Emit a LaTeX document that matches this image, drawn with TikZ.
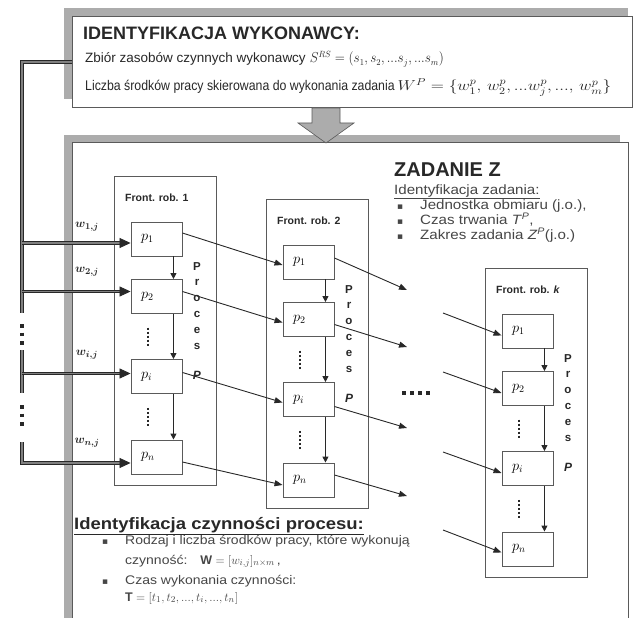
\documentclass[tikz,border=0pt]{standalone}
\usepackage{fontspec}
\setmainfont{Liberation Sans}
\newfontfamily\symfont{DejaVu Sans}
\newfontfamily\narrowfont[FakeStretch=0.88]{Liberation Sans}
\newfontfamily\widefont[FakeStretch=1.12]{Liberation Sans}
\usepackage{bm}
\usetikzlibrary{arrows.meta,calc}
\definecolor{shadowgray}{RGB}{172,172,172}
\definecolor{linegray}{RGB}{90,90,90}
\definecolor{ink}{RGB}{40,40,40}
\definecolor{softink}{RGB}{70,70,70}
\newcommand\sqbullet{{\symfont\fontsize{9}{9}\selectfont ▪}}
\begin{document}
\begin{tikzpicture}[x=1pt,y=-1pt,
 panel/.style={draw=linegray,fill=white,line width=0.8pt,inner sep=0pt,anchor=north west},
 frontbox/.style={draw=linegray,line width=0.9pt,minimum width=102pt,minimum height=309pt,inner sep=0pt,anchor=north west},
 pbox/.style={draw=linegray,fill=white,line width=0.9pt,minimum width=51pt,minimum height=34pt,text width=31pt,inner xsep=10pt,inner ysep=0pt,align=left,font=\fontsize{14}{14}\selectfont},
 varr/.style={draw=ink,line width=0.9pt,-{Triangle[length=6pt,width=6pt]}},
 conn/.style={draw=ink,line width=0.9pt,-{Triangle[length=8pt,width=6pt]}},
 bus/.style={draw=ink,double=gray,line width=1.1pt,double distance=1.6pt},
 feedtip/.style={draw=ink,line width=0.8pt,-{Triangle[length=11pt,width=10pt]}},
 vdots/.style={draw=ink,line width=2pt,dash pattern=on 2pt off 2pt},
 busdots/.style={draw=ink,line width=3.5pt,dash pattern=on 3.5pt off 5pt},
 hdots/.style={draw=ink,line width=4pt,dash pattern=on 4pt off 4pt},
 frontlabel/.style={font=\bfseries\fontsize{10.5}{11}\selectfont,text=ink,anchor=west,inner sep=0pt},
 proces/.style={font=\bfseries\fontsize{11.5}{15.8}\selectfont,align=center,inner sep=0pt,anchor=north,text=ink},
 procp/.style={font=\bfseries\itshape\fontsize{12}{12}\selectfont,inner sep=0pt,text=ink},
 wlabel/.style={font=\fontsize{12.5}{12}\selectfont,text=ink},
 txt/.style={anchor=base west,inner sep=0pt,text=ink},
 head/.style={font=\fontsize{13.5}{14}\selectfont,text=ink},
 headn/.style={font=\narrowfont\fontsize{14}{14}\selectfont,text=ink},
 small/.style={font=\widefont\fontsize{13.5}{14}\selectfont,text=softink},
 smallb/.style={font=\widefont\fontsize{12.5}{13}\selectfont,text=softink},
]
\useasboundingbox (0,0) rectangle (633,618);
% panels
\fill[shadowgray] (64,8) rectangle (628,99);
\node[panel,minimum width=560pt,minimum height=91pt] (top) at (72,16) {};
\fill[shadowgray] (64,135) rectangle (620,630);
\node[panel,minimum width=556pt,minimum height=490pt] (main) at (72,142) {};
% big arrow
\draw[draw=linegray,fill=shadowgray,line width=0.6pt] (312,108) -- (340,108) -- (340,123) -- (354,123) -- (326,143) -- (298,123) -- (312,123) -- cycle;
% header texts
\node[txt,font=\bfseries\fontsize{18}{18}\selectfont] (h1) at (83,40) {IDENTYFIKACJA WYKONAWCY:};
\node[txt,head] (h2) at (85,63) {Zbiór zasobów czynnych wykonawcy\hspace{4pt}\scalebox{0.92}[1]{$S^{RS}=(s_1,s_2,...s_j,...s_m)$}};
\node[txt,headn] (h3) at (85,91) {Liczba środków pracy skierowana do wykonania zadania\hspace{3pt}\scalebox{1.2}[1]{$W^{P}=\{w_1^{p},\,w_2^{p},...w_j^{p},...,\,w_m^{p}\}$}};
% columns
\foreach \c/\fx/\fy/\lab in {1/114/176/1, 2/266/199/2, k/485/268/\textit{k}} {
  \node[frontbox] (f\c) at (\fx,\fy) {};
  \node[frontlabel] at ($(f\c.north west)+(11,22)$) {Front. rob. \lab};
  \node[pbox] (c\c-1) at ($(f\c.north west)+(42.5,63)$) {$p_1$};
  \node[pbox] (c\c-2) at ($(f\c.north west)+(42.5,120.5)$) {$p_2$};
  \node[pbox] (c\c-i) at ($(f\c.north west)+(42.5,200.5)$) {$p_i$};
  \node[pbox] (c\c-n) at ($(f\c.north west)+(42.5,281)$) {$p_n$};
  \draw[varr] ($(c\c-1.south east)+(-9,0)$) -- ($(c\c-2.north east)+(-9,0)$);
  \draw[varr] ($(c\c-2.south east)+(-9,0)$) -- ($(c\c-i.north east)+(-9,0)$);
  \draw[varr] ($(c\c-i.south east)+(-9,0)$) -- ($(c\c-n.north east)+(-9,0)$);
  \draw[vdots] ($(c\c-2.south west)!0.5!(c\c-i.north west)+(17,-9)$) -- ++(0,18);
  \draw[vdots] ($(c\c-i.south west)!0.5!(c\c-n.north west)+(17,-9)$) -- ++(0,18);
  \node[proces] at ($(f\c.north west)+(83,86)$) {P\\r\\o\\c\\e\\s};
  \node[procp] at ($(f\c.north west)+(83,199)$) {P};
}
% bus on the left
\coordinate (busx) at (22,0);
\coordinate (busA) at (22,313);
\coordinate (busB1) at (22,350);
\coordinate (busB2) at (22,393);
\coordinate (busC) at (22,442);
\coordinate (t1) at ($(c1-1.west)+(0,4)$);
\coordinate (t2) at ($(c1-2.west)+(0,-5)$);
\coordinate (ti) at ($(c1-i.west)+(0,-3)$);
\coordinate (tn) at ($(c1-n.west)+(0,6)$);
\draw[bus] (top.west) -| (busA);
\draw[bus] (busB1) -- (busB2);
\draw[busdots] (22,324) -- (22,347);
\draw[busdots] (22,405) -- (22,428);
\draw[bus,shorten >=10pt] (busx |- t1) -- (t1);
\draw[bus,shorten >=10pt] (busx |- t2) -- (t2);
\draw[bus,shorten >=10pt] (busx |- ti) -- (ti);
\draw[bus,shorten >=10pt] (busC) |- (tn);
\foreach \t in {t1,t2,ti,tn} { \draw[feedtip] ($(\t)+(-11,0)$) -- (\t); }
\node[wlabel] at (87,227) {$\bm{w_{1,j}}$};
\node[wlabel] at (87,272) {$\bm{w_{2,j}}$};
\node[wlabel] at (87,355) {$\bm{w_{i,j}}$};
\node[wlabel] at (87,443) {$\bm{w_{n,j}}$};
% column 1 -> column 2
\draw[conn] ($(c1-1.east)+(0,-6)$) -- ($(c2-1.west)+(0,3)$);
\draw[conn] ($(c1-2.east)+(0,-5)$) -- ($(c2-2.west)+(0,3)$);
\draw[conn] ($(c1-i.east)+(0,-4)$) -- ($(c2-i.west)+(0,3)$);
\draw[conn] ($(c1-n.east)+(0,5)$) -- ($(c2-n.west)+(0,5)$);
% column 2 outgoing
\coordinate (o1) at (407,290);
\coordinate (o2) at (407,347);
\coordinate (oi) at (407,428);
\coordinate (on) at (407,496);
\draw[conn] ($(c2-1.east)+(0,-4)$) -- (o1);
\draw[conn] ($(c2-2.east)+(0,5)$) -- (o2);
\draw[conn] ($(c2-i.east)+(0,7)$) -- (oi);
\draw[conn] ($(c2-n.east)+(0,-5)$) -- (on);
% column k incoming
\coordinate (k1) at (443,313);
\coordinate (k2) at (443,372);
\coordinate (ki) at (443,452);
\coordinate (kn) at (443,530);
\draw[conn] (k1) -- ($(ck-1.west)+(0,4.5)$);
\draw[conn] (k2) -- ($(ck-2.west)+(0,4.5)$);
\draw[conn] (ki) -- ($(ck-i.west)+(0,4.5)$);
\draw[conn] (kn) -- ($(ck-n.west)+(0,3.5)$);
\draw[hdots] (402,393) -- (432,393);
% task texts
\node[txt,font=\bfseries\fontsize{20}{20}\selectfont] at (394,177) {ZADANIE Z};
\node[txt,small] at (394,194) {\underline{Identyfikacja zadania:}};
\node[txt,small] at (397,210) {\sqbullet};
\node[txt,small] at (420,210) {Jednostka obmiaru (j.o.),};
\node[txt,small] at (397,225) {\sqbullet};
\node[txt,small] at (420,225) {Czas trwania \textit{T}\textsuperscript{\textit{P}},};
\node[txt,small] at (397,240) {\sqbullet};
\node[txt,small] at (420,240) {Zakres zadania \textit{Z}\textsuperscript{\textit{P}}(j.o.)};
% process texts
\node[txt,font=\widefont\bfseries\fontsize{16.5}{16}\selectfont] at (74,529) {\underline{Identyfikacja czynności procesu:}};
\node[txt,smallb] at (102,544) {\sqbullet};
\node[txt,smallb] at (125,544) {Rodzaj i liczba środków pracy, które wykonują};
\node[txt,smallb] at (125,564) {czynność: \ \ $\mathbf{W}=[w_{i,j}]_{n\times m}$\,,};
\node[txt,smallb] at (102,584) {\sqbullet};
\node[txt,smallb] at (125,584) {Czas wykonania czynności:};
\node[txt,smallb] at (125,601) {$\mathbf{T}=[t_1,t_2,...,t_i,...,t_n]$};
\end{tikzpicture}
\end{document}
